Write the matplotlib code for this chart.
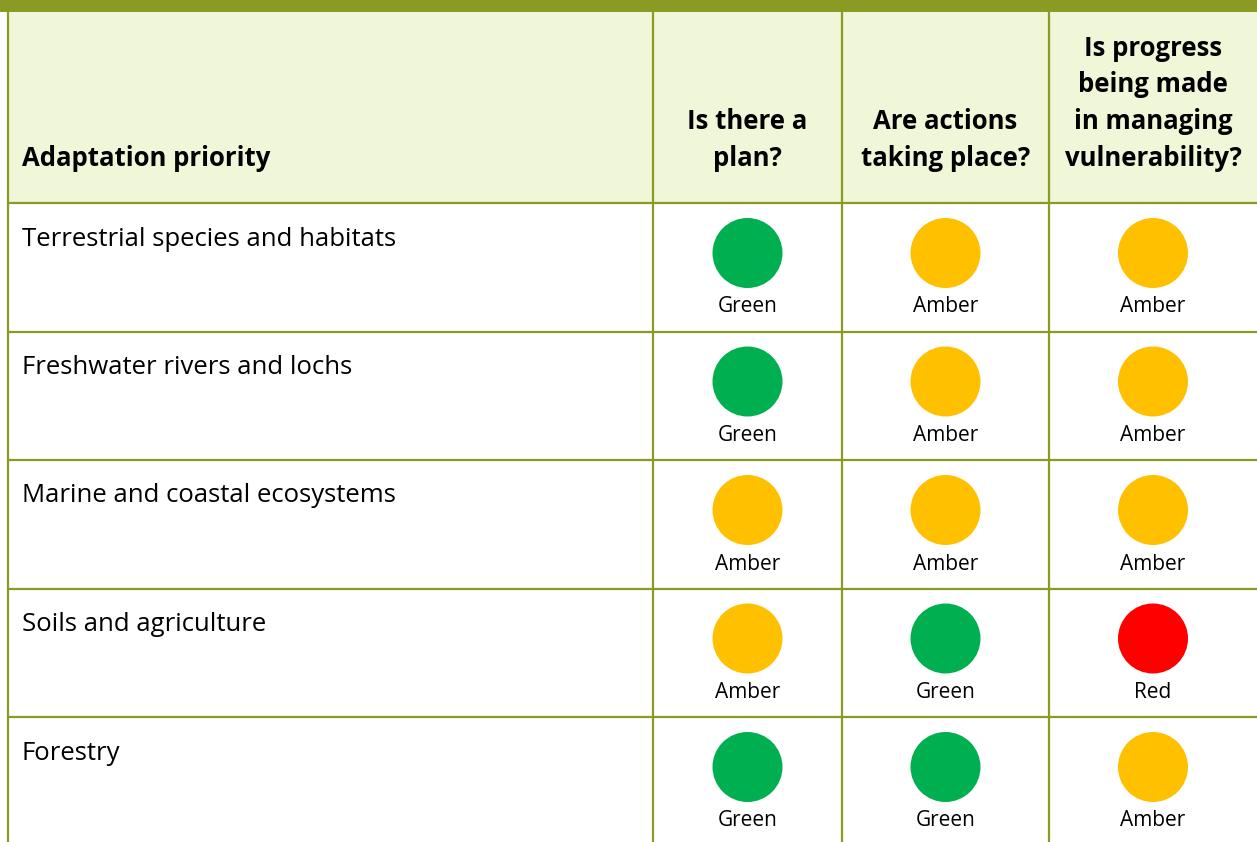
import matplotlib
matplotlib.use("Agg")
import matplotlib.pyplot as plt
from matplotlib.patches import Rectangle, Ellipse

# ---- data ----
priorities = [
    "Terrestrial species and habitats",
    "Freshwater rivers and lochs",
    "Marine and coastal ecosystems",
    "Soils and agriculture",
    "Forestry",
]
header_first = "Adaptation priority"
questions = [
    "Is there a\nplan?",
    "Are actions\ntaking place?",
    "Is progress\nbeing made\nin managing\nvulnerability?",
]
plan_status = ["Green", "Green", "Amber", "Amber", "Green"]
actions_status = ["Amber", "Amber", "Amber", "Green", "Green"]
progress_status = ["Amber", "Amber", "Amber", "Red", "Amber"]
status_colors = {"Green": "#00B050", "Amber": "#FFC000", "Red": "#FF0000"}

# ---- layout (pixels) ----
W, H = 1257, 842
OLIVE = "#8A9A22"
HEADER_BG = "#F0F6D8"
col_edges = [8, 653, 842, 1049, 1257]
header_top, header_bot = 12, 203
row_h = 128.5

fig = plt.figure(figsize=(W / 100, H / 100), dpi=100)
ax = fig.add_axes([0, 0, 1, 1])
ax.set_xlim(0, W)
ax.set_ylim(H, 0)
ax.axis("off")

FONT = ["Open Sans", "DejaVu Sans"]

# top band
ax.add_patch(Rectangle((0, 0), W, header_top, color=OLIVE, lw=0))
# header background
ax.add_patch(Rectangle((col_edges[0], header_top), W - col_edges[0],
                       header_bot - header_top, color=HEADER_BG, lw=0))

lw = 1.6
n = len(priorities)
row_tops = [header_bot + i * row_h for i in range(n)]
for y in row_tops:
    ax.plot([col_edges[0], W], [y, y], color=OLIVE, lw=lw, solid_capstyle="butt")
for x in col_edges[:-1]:
    ax.plot([x, x], [header_top, H], color=OLIVE, lw=lw, solid_capstyle="butt")

# header text
hdr_fs = 18.5
ax.text(22, 158, header_first, fontsize=hdr_fs, fontweight="bold", family=FONT,
        ha="left", va="center", color="black")
for j, q in enumerate(questions):
    cx = (col_edges[j + 1] + col_edges[j + 2]) / 2
    lines = q.split("\n")
    for k, line in enumerate(reversed(lines)):
        ax.text(cx, 158 - k * 36.5, line, fontsize=hdr_fs, fontweight="bold",
                family=FONT, ha="center", va="center", color="black")

# rows
statuses = [plan_status, actions_status, progress_status]
for i, name in enumerate(priorities):
    top = row_tops[i]
    ax.text(22, top + 36, name, fontsize=18.5, family=FONT, ha="left",
            va="center", color="black")
    for j, col in enumerate(statuses):
        cx = (col_edges[j + 1] + col_edges[j + 2]) / 2
        s = col[i]
        ax.add_patch(Ellipse((cx, top + 50), 70, 70, color=status_colors[s], lw=0))
        ax.text(cx, top + 104, s, fontsize=15, family=FONT, ha="center",
                va="center", color="black")

fig.savefig("out.png", dpi=100)
